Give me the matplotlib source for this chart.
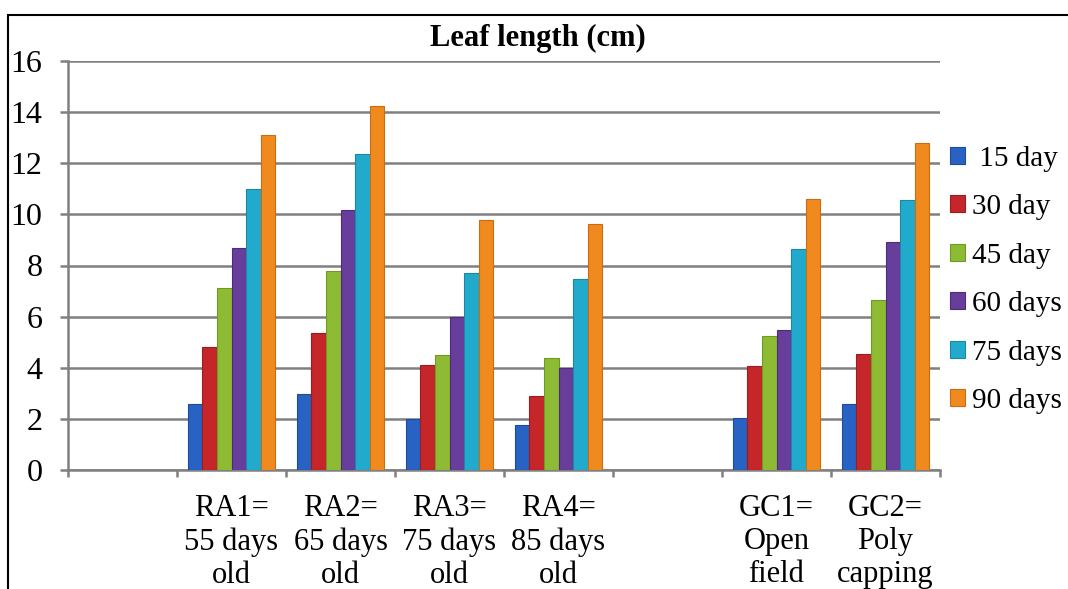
import matplotlib
matplotlib.use("Agg")
import matplotlib.pyplot as plt
import numpy as np
from matplotlib.patches import Rectangle, Patch

plt.rcParams['font.family'] = ['Liberation Serif', 'DejaVu Serif']

categories = ["", "RA1=\n55 days\nold", "RA2=\n65 days\nold", "RA3=\n75 days\nold",
              "RA4=\n85 days\nold", "", "GC1=\nOpen\nfield", "GC2=\nPoly\ncapping"]
series_names = [" 15 day", "30 day", "45 day", "60 days", "75 days", "90 days"]
# values per series for each category (None for empty slots)
d15 = [None, 2.6, 2.98, 1.98, 1.76, None, 2.03, 2.6]
d30 = [None, 4.83, 5.35, 4.12, 2.89, None, 4.06, 4.53]
d45 = [None, 7.13, 7.8, 4.48, 4.4, None, 5.23, 6.64]
d60 = [None, 8.69, 10.16, 6.0, 4.0, None, 5.47, 8.92]
d75 = [None, 11.0, 12.36, 7.7, 7.46, None, 8.65, 10.56]
d90 = [None, 13.1, 14.25, 9.78, 9.62, None, 10.6, 12.78]
series = [d15, d30, d45, d60, d75, d90]
colors = ["#2862C2", "#C4262A", "#8DBB34", "#673E9B", "#22AACD", "#F08A1F"]
edges = ["#1E4C9A", "#9C1D20", "#6E9A22", "#4E2C7A", "#1A87A6", "#C96D12"]
yticks = [0, 2, 4, 6, 8, 10, 12, 14, 16]

fig = plt.figure(figsize=(10.68, 5.89), dpi=100)
ax = fig.add_axes([68/1068, 1-470/589, (940-68)/1068, (470-61)/589])

n = len(series)
bw = 0.8 / n
x = np.arange(len(categories))
for i, (vals, c, ec) in enumerate(zip(series, colors, edges)):
    xs = [xi - 0.4 + bw*(i+0.5) for xi, v in zip(x, vals) if v is not None]
    vs = [v for v in vals if v is not None]
    ax.bar(xs, vs, width=bw, color=c, edgecolor=ec, linewidth=0.8, zorder=3)

ax.set_xlim(-0.5, len(categories)-0.5)
ax.set_ylim(0, 16)
ax.set_yticks(yticks)
ax.set_yticklabels([str(t) for t in yticks], fontsize=23)
ax.yaxis.grid(True, color="#808080", linewidth=1.8, zorder=0)
ax.set_axisbelow(True)
ax.set_xticks(np.arange(len(categories)+1) - 0.5)
ax.set_xticklabels([])
ax.set_xticks(x, minor=True)
ax.set_xticklabels(categories, minor=True, fontsize=22, linespacing=1.2)
ax.tick_params(axis='x', which='minor', length=0, pad=17)
ax.tick_params(axis='x', which='major', length=5, width=1.8, color="#808080")
ax.tick_params(axis='y', length=6, width=1.8, color="#808080", pad=12.5)
for s in ['top', 'right']:
    ax.spines[s].set_visible(False)
for s in ['left', 'bottom']:
    ax.spines[s].set_color("#808080")
    ax.spines[s].set_linewidth(1.8)

fig.text(538/1068, 1-46/589, "Leaf length (cm)", ha='center', va='baseline',
         fontsize=22, fontweight='bold')

handles = [Patch(facecolor=c, edgecolor=ec, linewidth=0.8) for c, ec in zip(colors, edges)]
fig.legend(handles, series_names, loc='center left',
           bbox_to_anchor=(950/1068, 1-280/589), frameon=False, fontsize=21,
           handlelength=0.52, handleheight=0.52, handletextpad=0.24,
           labelspacing=0.77, borderaxespad=0, borderpad=0)

fig.patches.append(Rectangle((8/1068, -0.1), 1.2, 1.1-15/589, transform=fig.transFigure,
                             fill=False, edgecolor='black', linewidth=1.5))

fig.savefig("out.png", dpi=100)
